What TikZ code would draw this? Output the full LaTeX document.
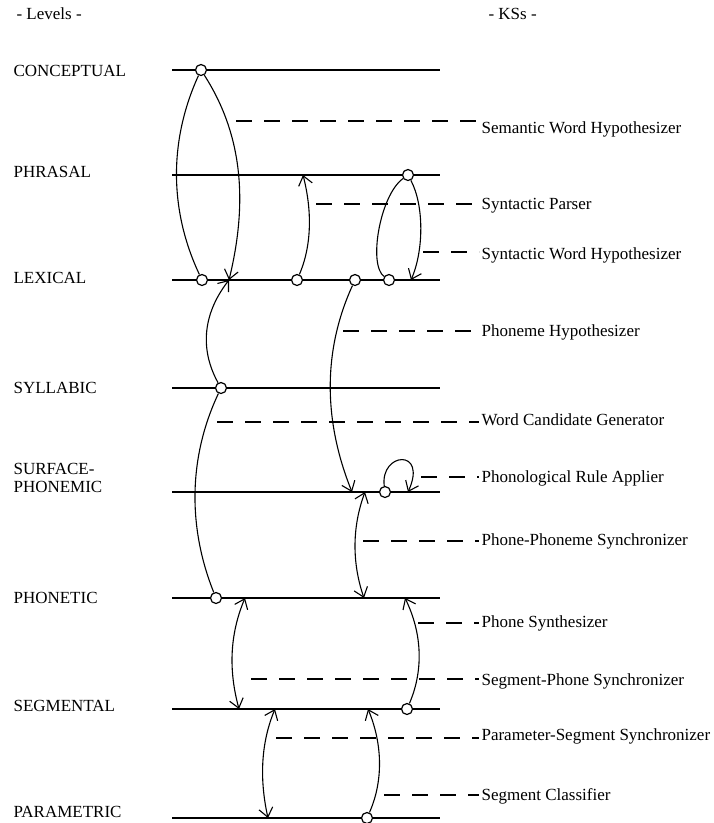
\documentclass[tikz,border=0pt]{standalone}
\usepackage{fontspec}
\setmainfont{Liberation Serif}
\usetikzlibrary{arrows.meta}
\tikzset{
  level/.style={line width=1.4pt},
  port/.style={circle,draw,fill=white,inner sep=0pt,minimum size=11pt,line width=1.2pt},
  kslink/.style={dash pattern=on 16pt off 12pt,line width=1.1pt},
  kslabel/.style={anchor=base west,inner sep=2pt},
  lvlabel/.style={anchor=base west,inner sep=0pt,align=left}
}
\begin{document}
\begin{tikzpicture}[x=1pt,y=-1pt,font=\fontsize{17}{18}\selectfont,>={Straight Barb[length=9pt,width=14pt]},line width=1.1pt]
  \useasboundingbox (0,0) rectangle (714,823);
  % 两列标题
  \node[lvlabel] (levT) at (16,19) {- Levels -};
  \node[lvlabel] (ksT) at (488,19) {- KSs -};
  % 各层水平线及层名
  \foreach \nm/\y/\yb/\txt in {con/70/76/CONCEPTUAL, phr/175/177/PHRASAL,
      lex/280/283/LEXICAL, syl/388/393/SYLLABIC, sur/492/492/{SURFACE-\\PHONEMIC},
      pht/598/603/PHONETIC, seg/709/711/SEGMENTAL, par/818/817/PARAMETRIC}{
    \draw[level] (172,\y) -- (440,\y);
    \node[lvlabel] (\nm) at (13,\yb) {\txt};
  }
  % 知识源名称及虚线
  \foreach \nm/\x/\yd/\yb/\txt in {semWH/236/121/133/Semantic Word Hypothesizer,
      synP/316/204/209/Syntactic Parser, synWH/423/252/259/Syntactic Word Hypothesizer,
      phonH/343/331/336/Phoneme Hypothesizer, wcg/217/422/425/Word Candidate Generator,
      pra/421/477/482/Phonological Rule Applier, ppSync/363/541/545/Phone-Phoneme Synchronizer,
      phSyn/418/623/627/Phone Synthesizer, spSync/251/679/685/Segment-Phone Synchronizer,
      psSync/276/738/740/Parameter-Segment Synchronizer, segCl/384/795/800/Segment Classifier}{
    \coordinate (\nm-s) at (\x,\yd);
    \node[kslabel] (\nm) at (479,\yb) {\txt};
    \draw[kslink] (\nm-s) -- (\nm-s -| \nm.west);
  }
  % 输入端（小圆圈）
  \node[port] (conO) at (201,70) {};
  \node[port] (phrO) at (408,175) {};
  \node[port] (lexO1) at (202,280) {};
  \node[port] (lexO2) at (297,280) {};
  \node[port] (lexO3) at (355,280) {};
  \node[port] (lexO4) at (389,280) {};
  \node[port] (sylO) at (221,388) {};
  \node[port] (surO) at (385,492) {};
  \node[port] (phtO) at (216,598) {};
  \node[port] (segO) at (407,709) {};
  \node[port] (parO) at (367,818) {};
  % 输出端（箭头落点）
  \coordinate (lexIn1) at (229,280);
  \coordinate (lexIn2) at (411,280);
  \coordinate (phrIn) at (303,175);
  \coordinate (surIn1) at (352,492);
  \coordinate (surIn2) at (408,492);
  \coordinate (surIn3) at (365,492);
  \coordinate (phtIn1) at (405,598);
  \coordinate (phtIn2) at (245,598);
  \coordinate (phtIn3) at (364,598);
  \coordinate (segIn1) at (275,709);
  \coordinate (segIn2) at (239,709);
  \coordinate (segIn3) at (368,709);
  \coordinate (parIn) at (268,818);
  % Semantic Word Hypothesizer
  \draw (conO) .. controls (169,140) and (169,210) .. (lexO1);
  \draw[->] (conO) .. controls (246,140) and (246,210) .. (lexIn1);
  % Syntactic Parser
  \draw[->] (lexO2) .. controls (312,245) and (312,210) .. (phrIn);
  % Syntactic Word Hypothesizer
  \draw (phrO) .. controls (380,195) and (368,265) .. (lexO4);
  \draw[->] (phrO) .. controls (424,205) and (424,250) .. (lexIn2);
  % Phoneme Hypothesizer
  \draw[->] (lexO3) .. controls (323,350) and (323,420) .. (surIn1);
  % Word Candidate Generator
  \draw[->] (sylO) .. controls (201,352) and (201,316) .. (lexIn1);
  \draw (sylO) .. controls (188,458) and (188,528) .. (phtO);
  % Phonological Rule Applier
  \draw[->] (surO) .. controls (380,452) and (428,448) .. (surIn2);
  % 同步器（双向）
  \draw[<->] (surIn3) .. controls (352,527) and (352,563) .. (phtIn3);
  \draw[<->] (phtIn2) .. controls (229,636) and (229,672) .. (segIn2);
  \draw[<->] (segIn1) .. controls (260,745) and (260,782) .. (parIn);
  % Phone Synthesizer
  \draw[->] (segO) .. controls (423,672) and (423,635) .. (phtIn1);
  % Segment Classifier
  \draw[->] (parO) .. controls (383,782) and (383,745) .. (segIn3);
\end{tikzpicture}
\end{document}
